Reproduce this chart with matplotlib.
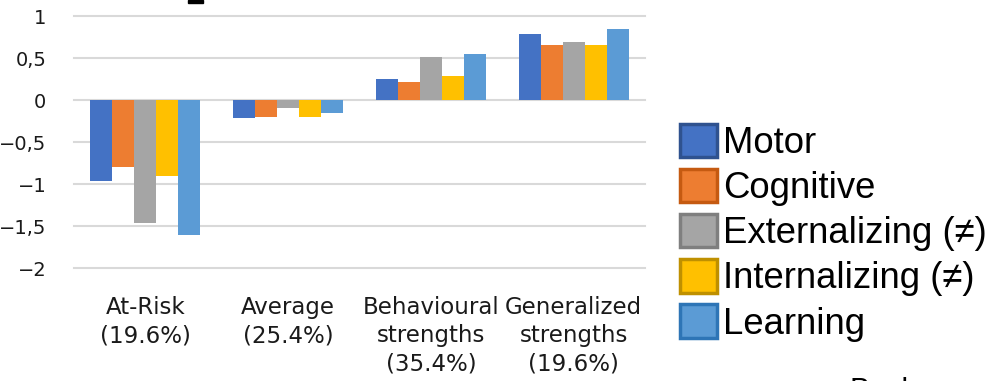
import matplotlib
matplotlib.use("Agg")
import matplotlib.pyplot as plt
import numpy as np
from matplotlib.patches import Patch, Rectangle

categories = ["At-Risk\n(19.6%)", "Average\n(25.4%)",
              "Behavioural\nstrengths\n(35.4%)", "Generalized\nstrengths\n(19.6%)"]
series = ["Motor", "Cognitive", "Externalizing (≠)", "Internalizing (≠)", "Learning"]
motor = [-0.97, -0.21, 0.25, 0.78]
cognitive = [-0.80, -0.20, 0.21, 0.655]
externalizing = [-1.47, -0.10, 0.51, 0.69]
internalizing = [-0.90, -0.20, 0.28, 0.655]
learning = [-1.61, -0.16, 0.55, 0.84]
yticks = [1, 0.5, 0, -0.5, -1, -1.5, -2]

values = [motor, cognitive, externalizing, internalizing, learning]
colors = ["#4472C4", "#ED7D31", "#A5A5A5", "#FFC000", "#5B9BD5"]
edges = ["#2F528F", "#C55A11", "#7F7F7F", "#BF9000", "#2E75B6"]

fig = plt.figure(figsize=(9.92, 3.81), dpi=100)
ax = fig.add_axes([74 / 992, 113 / 381, 571 / 992, 252 / 381])

x = np.arange(len(categories))
w = 0.154
for i, (vals, c) in enumerate(zip(values, colors)):
    ax.bar(x + (i - 2) * w, vals, width=w, color=c, zorder=3)

ax.set_xlim(-0.5, 3.5)
ax.set_ylim(-2, 1)
ax.set_yticks(yticks)
ax.set_yticklabels([("%g" % v).replace(".", ",").replace("-", "\u2212") for v in yticks],
                   family="DejaVu Sans", fontsize=14, color="#1a1a1a")
ax.set_xticks(x)
ax.set_xticklabels(categories, family="DejaVu Sans", fontsize=16.5,
                   color="#1a1a1a", linespacing=1.3, va="top")
ax.tick_params(axis="both", length=0)
ax.tick_params(axis="y", pad=20)
ax.tick_params(axis="x", pad=20)
ax.grid(axis="y", color="#D9D9D9", linewidth=1.5, zorder=0, clip_on=False)
for s in ax.spines.values():
    s.set_visible(False)

handles = [Patch(facecolor=c, edgecolor=e, linewidth=2.5) for c, e in zip(colors, edges)]
leg = fig.legend(handles, series, loc="upper left", bbox_to_anchor=(680 / 992, 1 - 124 / 381),
                 frameon=False, prop={"family": "Liberation Sans", "size": 26.3},
                 handlelength=1.02, handleheight=1.02, handletextpad=0.15,
                 labelspacing=0.22, borderpad=0, borderaxespad=0)

# cropped fragments at the image edges
fig.patches.append(Rectangle((188 / 992, 1 - 3 / 381), 15 / 992, 3 / 381,
                             transform=fig.transFigure, color="black"))
fig.text(850 / 992, 4 / 381, "Background", va="top", ha="left",
         family="Liberation Sans", fontsize=22, color="black")

fig.savefig("out.png", dpi=100)
